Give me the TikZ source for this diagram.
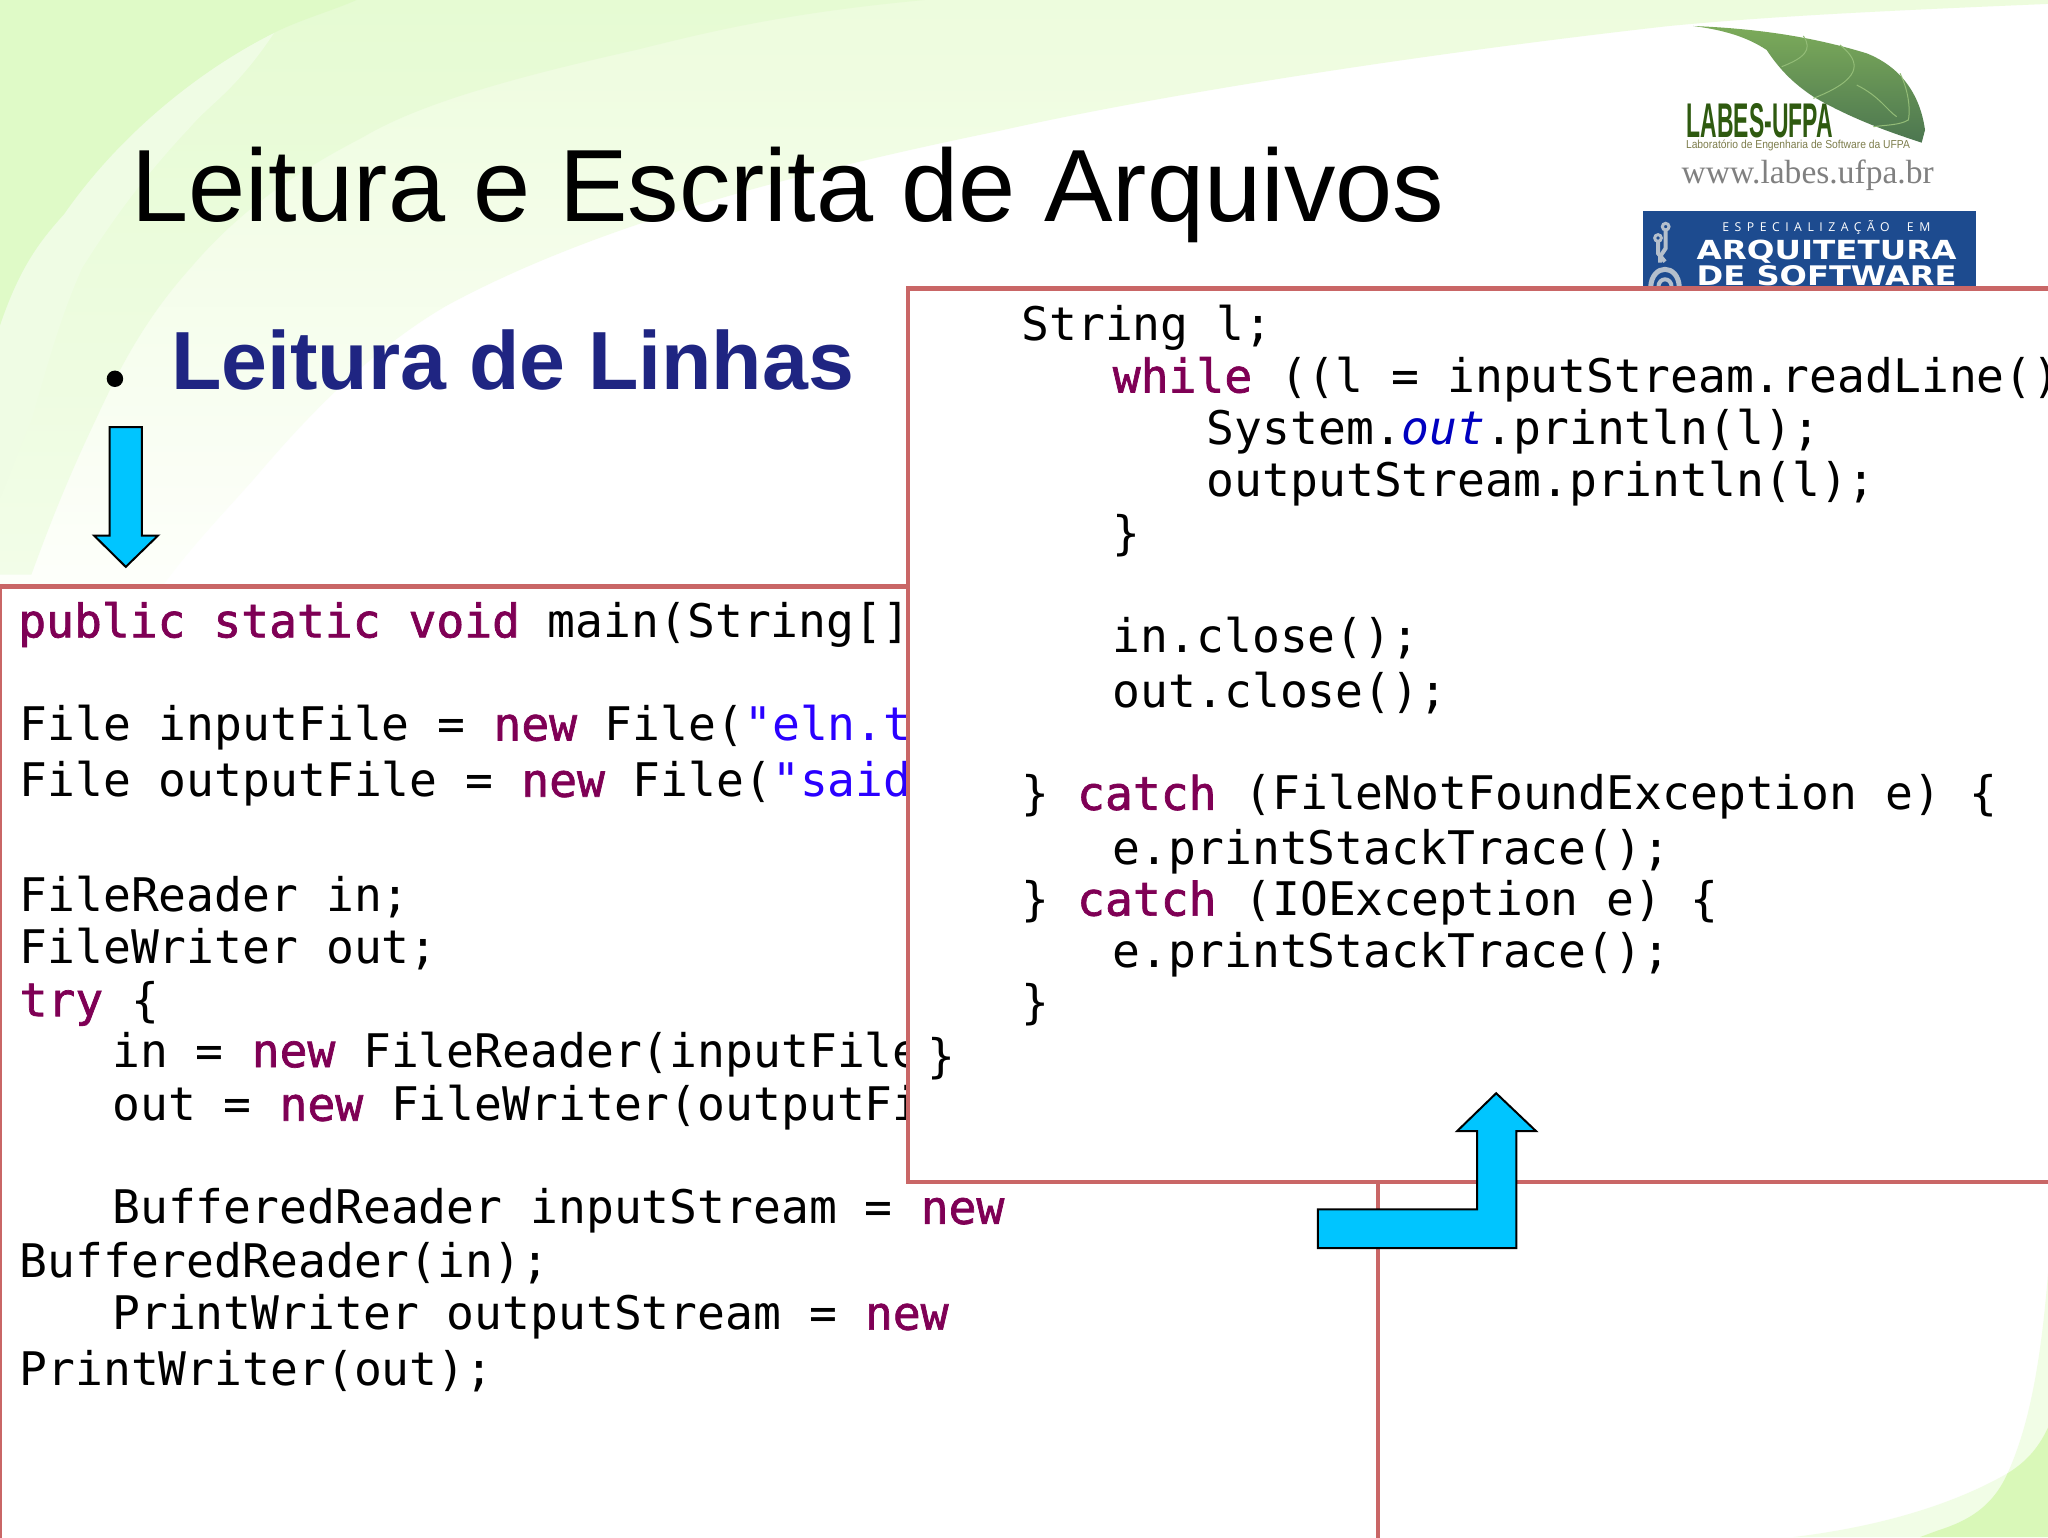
\documentclass[tikz,border=0pt]{standalone}
\usepackage{fontspec}
\setmainfont{Liberation Sans}
\newfontfamily\codefont{DejaVu Sans Mono}
\newfontfamily\codekwfont[FakeBold=1.5]{DejaVu Sans Mono}
\newfontfamily\serifwww{Liberation Serif}
\newfontfamily\spacedfont[LetterSpace=45]{Open Sans}
\newfontfamily\widefont{DejaVu Sans}
\definecolor{kwc}{HTML}{7F0055}
\definecolor{strc}{HTML}{2A00FF}
\definecolor{outc}{HTML}{0000C0}
\definecolor{framec}{HTML}{C96666}
\definecolor{arrowc}{HTML}{00C5FF}
\definecolor{titleblue}{HTML}{1F2582}
\definecolor{bannerc}{HTML}{1D4B8F}
\definecolor{bgA}{HTML}{EDFCDD}
\definecolor{bgAb}{HTML}{FEFFFC}
\definecolor{bgC}{HTML}{E6FBD3}
\definecolor{bgCb}{HTML}{F2FDE8}
\definecolor{bgD}{HTML}{EFFCE4}
\definecolor{bgE}{HTML}{DFFAC7}
\definecolor{bgF}{HTML}{F1FDE6}
\definecolor{bgG}{HTML}{D9F8B8}
\definecolor{leafA}{HTML}{7CAB5A}
\definecolor{leafB}{HTML}{4C7650}
\definecolor{labesc}{HTML}{2F5A10}
\definecolor{labsub}{HTML}{7D7D4C}
\definecolor{iconc}{HTML}{B4BFCC}
\definecolor{veinc}{HTML}{93BC77}
\newcommand{\kwd}[1]{{\codekwfont\color{kwc}#1}}
\newcommand{\strg}[1]{{\color{strc}#1}}
\newcommand{\outf}[1]{{\itshape\color{outc}#1}}
\tikzset{
  codeline/.style={anchor=base west,inner sep=0pt,outer sep=0pt,font=\codefont\fontsize{46.3}{54}\selectfont,text=black},
  framebox/.style={draw=framec,line width=4.4pt,fill=white},
  bluearrow/.style={draw=black,line width=2pt,fill=arrowc,line join=miter},
  plain/.style={anchor=base west,inner sep=0pt,outer sep=0pt},
  vein/.style={draw=veinc,line width=1pt}
}
\begin{document}
\begin{tikzpicture}[x=1.30612pt,y=-1.30612pt]
\useasboundingbox (0,0) rectangle (1568,1176.8);
\clip (0,0) rectangle (1568,1176.8);
% background
\fill[white] (0,0) rectangle (1568,1176.8);
\shade[top color=bgA,bottom color=bgAb] (0,0) -- (1568,0) -- (1568,3)
  .. controls (1450,8) and (1360,12) .. (1277,20)
  .. controls (1100,40) and (900,70) .. (766,100)
  .. controls (620,130) and (460,170) .. (342,234)
  .. controls (280,270) and (230,325) .. (195,366)
  .. controls (165,400) and (135,430) .. (110,470)
  -- (0,470) -- cycle;
\shade[top color=bgC,bottom color=bgCb] (0,0) -- (708,0) .. controls (600,10) and (540,25) .. (488,38)
  .. controls (390,60) and (320,80) .. (278,105)
  .. controls (220,135) and (180,165) .. (146,205)
  .. controls (110,245) and (90,285) .. (73,322)
  .. controls (50,370) and (35,410) .. (24,440)
  -- (0,440) -- cycle;
\fill[bgD] (210,25) .. controls (180,70) and (160,80) .. (146,97)
  .. controls (110,135) and (85,170) .. (63,205)
  .. controls (45,245) and (35,285) .. (24,322)
  .. controls (12,350) and (5,370) .. (0,381)
  -- (0,249) .. controls (15,205) and (30,185) .. (49,164)
  .. controls (90,105) and (150,55) .. (210,25) -- cycle;
\fill[bgE] (0,0) -- (273,0) .. controls (255,8) and (230,15) .. (210,25)
  .. controls (150,55) and (90,105) .. (49,164)
  .. controls (30,185) and (15,205) .. (0,249) -- cycle;
\fill[bgF] (1568,975) .. controls (1562,1050) and (1552,1095) .. (1537,1128)
  .. controls (1490,1155) and (1430,1170) .. (1373,1176.8) -- (1568,1176.8) -- cycle;
\fill[bgG] (1568,1093) .. controls (1560,1110) and (1550,1120) .. (1537,1128)
  .. controls (1525,1155) and (1505,1165) .. (1483,1172) -- (1470,1176.8) -- (1568,1176.8) -- cycle;
% title
\node[plain,text=black,font=\fontsize{102.7}{110}\selectfont] (title) at (100.5,169.4) {Leitura e Escrita de Arquivos};
\node[plain,text=titleblue,font=\bfseries\fontsize{82.5}{90}\selectfont] (subtitle) at (131,298) {Leitura de Linhas};
\fill[black] (88,290) circle (6.3);
% logos (units: 1/3 px from x=1600px)
\begin{scope}[shift={(1225,0)},x=.33333pt,y=-.33333pt]
  \shade[top color=leafA,bottom color=leafB]
    (280,78) .. controls (450,85) and (620,105) .. (800,160)
    .. controls (900,200) and (960,280) .. (975,390)
    -- (965,428) .. controls (880,400) and (760,360) .. (640,290)
    .. controls (580,250) and (540,210) .. (500,150)
    .. controls (440,110) and (370,90) .. (280,78) -- cycle;
  \draw[vein] (610,108) .. controls (640,150) and (610,175) .. (545,200);
  \draw[vein] (720,135) .. controls (790,190) and (780,240) .. (640,295);
  \draw[vein] (770,255) .. controls (840,290) and (860,330) .. (890,350);
  \draw[vein] (900,220) .. controls (930,280) and (930,340) .. (925,360) .. controls (900,375) and (860,375) .. (820,380);
  \node[anchor=south west,inner sep=0pt,text=labesc] (labes) at (260,415) {\resizebox{146pt}{34pt}{\bfseries LABES-UFPA}};
  \node[plain,text=labsub] (labessub) at (258,445) {\resizebox{224pt}{8.5pt}{\fontsize{14}{16}\selectfont Laboratório de Engenharia de Software da UFPA}};
  \node[plain,text=black!50] (www) at (245,550) {\resizebox{252pt}{!}{\serifwww\fontsize{32}{36}\selectfont www.labes.ufpa.br}};
  \fill[bannerc] (129,632) rectangle (1128,870);
  \node[plain,text=white] (esp) at (367,695) {\resizebox{208pt}{!}{\spacedfont\fontsize{14}{16}\selectfont ESPECIALIZAÇÃO\ \ EM}};
  \node[plain,text=white] (arq) at (290,780) {\resizebox{260pt}{19.5pt}{\widefont\bfseries ARQUITETURA}};
  \node[plain,text=white] (des) at (290,858) {\resizebox{260pt}{20pt}{\widefont\bfseries DE SOFTWARE}};
  \draw[iconc,line width=3pt] (197,680) circle (10);
  \draw[iconc,line width=3pt] (174,714) circle (10);
  \draw[iconc,line width=4pt] (197,692) -- (197,745) -- (180,770) -- (180,788);
  \draw[iconc,line width=4pt] (174,726) -- (174,760) -- (195,785);
  \draw[iconc,line width=5pt] (152,862) .. controls (155,790) and (235,790) .. (238,862);
  \draw[iconc,line width=4pt] (175,862) .. controls (175,830) and (215,830) .. (215,862);
\end{scope}
% left frame
\draw[framebox] (0,449) rectangle (1055,1190);
\node[codeline] (l1) at (14,488) {\kwd{public} \kwd{static} \kwd{void} main(String[]};
\node[codeline] (l2) at (15,567) {File inputFile = \kwd{new} File(\strg{"eln.t}};
\node[codeline] (l3) at (15,610) {File outputFile = \kwd{new} File(\strg{"said}};
\node[codeline] (l4) at (15,697.5) {FileReader in;};
\node[codeline] (l5) at (15,737.5) {FileWriter out;};
\node[codeline] (l6) at (15,778) {\kwd{try} \{};
\node[codeline] (l7) at (86,817) {in = \kwd{new} FileReader(inputFile};
\node[codeline] (l8) at (86,858) {out = \kwd{new} FileWriter(outputFi};
\node[codeline] (l9) at (86,937) {BufferedReader inputStream = \kwd{new}};
\node[codeline] (l10) at (15,978) {BufferedReader(in);};
\node[codeline] (l11) at (86,1018) {PrintWriter outputStream = \kwd{new}};
\node[codeline] (l12) at (15,1061) {PrintWriter(out);};
% right frame
\draw[framebox] (695,221) rectangle (1600,905);
\node[codeline] (r1) at (782,260.5) {String l;};
\node[codeline] (r2) at (852,300.5) {\kwd{while} ((l = inputStream.readLine()};
\node[codeline] (r3) at (924,340) {System.\outf{out}.println(l);};
\node[codeline] (r4) at (924,380) {outputStream.println(l);};
\node[codeline] (r5) at (852,421) {\}};
\node[codeline] (r6) at (852,499.5) {in.close();};
\node[codeline] (r7) at (852,541.5) {out.close();};
\node[codeline] (r8) at (782,620) {\} \kwd{catch} (FileNotFoundException e) \{};
\node[codeline] (r9) at (852,662) {e.printStackTrace();};
\node[codeline] (r10) at (782,701) {\} \kwd{catch} (IOException e) \{};
\node[codeline] (r11) at (852,741) {e.printStackTrace();};
\node[codeline] (r12) at (782,780) {\}};
\node[codeline] (r13) at (710,821) {\}};
% arrows
\draw[bluearrow] (84,327) -- (108.6,327) -- (108.6,410) -- (121,410) -- (96.3,434) -- (72,410) -- (84,410) -- cycle;
\draw[bluearrow] (1009,926) -- (1131,926) -- (1131,866) -- (1115.6,866) -- (1145.5,837) -- (1176,866) -- (1161,866) -- (1161,955.6) -- (1009,955.6) -- cycle;
\end{tikzpicture}
\end{document}
